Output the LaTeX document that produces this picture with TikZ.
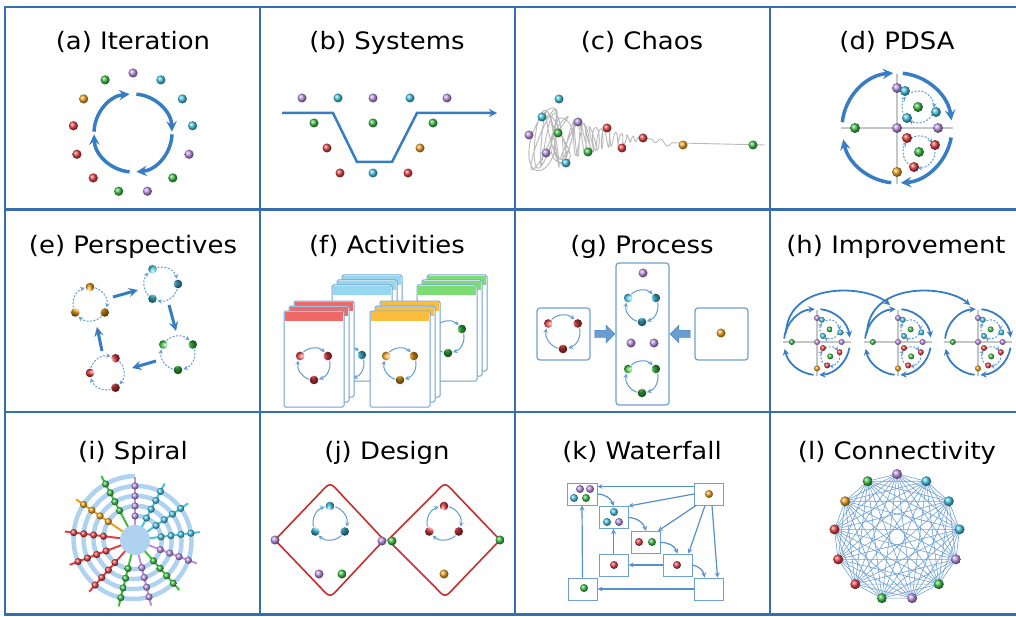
\documentclass[tikz,border=0pt]{standalone}
\usepackage{fontspec}
\setmainfont[FakeStretch=1.08]{DejaVu Sans}
\usetikzlibrary{arrows, positioning, calc, shapes.arrows}
\definecolor{framecol}{RGB}{55,110,175}
\definecolor{flowblue}{RGB}{55,125,195}
\definecolor{ringblue}{RGB}{95,155,215}
\definecolor{boxline}{RGB}{110,160,210}
\definecolor{spiralblue}{RGB}{175,210,240}
\definecolor{meshblue}{RGB}{110,160,210}
\definecolor{designred}{RGB}{200,45,45}
\definecolor{bred}{RGB}{225,65,70}
\definecolor{bgreen}{RGB}{60,190,70}
\definecolor{bcyan}{RGB}{70,195,225}
\definecolor{bpurple}{RGB}{185,145,225}
\definecolor{borange}{RGB}{235,160,30}
\definecolor{hred}{RGB}{240,105,105}
\definecolor{hcyan}{RGB}{150,215,240}
\definecolor{hgreen}{RGB}{125,220,115}
\definecolor{horange}{RGB}{250,190,60}
\tikzstyle{panelframe} = [draw=framecol, line width=2.5pt]
\tikzstyle{paneltitle} = [font=\fontsize{24}{28}\selectfont, anchor=base, inner sep=0pt]
\tikzstyle{bigarrow} = [draw=flowblue, line width=3.5pt, ->, >=stealth]
\tikzstyle{fatarrow} = [draw=flowblue, line width=3pt, ->, >=stealth]
\tikzstyle{ringarrow} = [draw=ringblue, line width=1pt, ->, >=stealth]
\tikzstyle{dasharrow} = [ringarrow, dash pattern=on 2pt off 1.5pt]
\tikzstyle{gbox} = [draw=boxline, line width=1.2pt, rounded corners=3pt, fill=white, inner sep=0pt]
\tikzstyle{kbox} = [draw=boxline, line width=1pt, fill=white, minimum width=29pt, minimum height=22pt, inner sep=0pt]
\tikzstyle{karrow} = [draw=flowblue!85, line width=1.2pt, ->, >=stealth]
\tikzstyle{blockarrow} = [single arrow, fill=flowblue!75, draw=flowblue, inner sep=3.5pt, single arrow head extend=5pt, minimum height=20pt]
\def\ballcols{bpurple,bcyan,bcyan,bcyan,bpurple,bgreen,bpurple,bgreen,bred,bred,bred,borange,bgreen}
\newcommand{\ball}[3][4.5pt]{\shade[ball color=#2] (#3) circle (#1);}
% three balls on a ring with small arrows between them
\newcommand{\triring}[5][ringarrow]{%
  \foreach \k in {0,1,2}{%
    \pgfmathsetmacro{\sa}{#4+120*\k}%
    \pgfmathsetmacro{\sb}{\sa+18}%
    \pgfmathsetmacro{\sc}{\sa+102}%
    \draw[#1] (#2) ++(\sb:#5) arc[start angle=\sb, end angle=\sc, radius=#5];
    \shade[ball color=#3] (#2) ++(\sa:#5) circle (4.3pt);
  }}
% stack of three cards, front card top left at (#1,#2)
\newcommand{\cardstack}[3]{%
  \foreach \d in {10,5,0}{%
    \filldraw[fill=white, draw=boxline, line width=1pt, rounded corners=1.5pt] (#1+\d, #2-\d) rectangle ++(60,96);
    \fill[#3] (#1+\d+0.6, #2-\d+0.6) rectangle ++(58.8,9.5);
  }}
% plan-do-study-act cycle around (0,0)
\newcommand{\pdsacycle}[1]{%
  \draw[gray!45, line width=1.2pt] (-56,0) -- (56,0) (0,-54) -- (0,56);
  \foreach \sa/\sb in {186/266, 276/352, 10/86, 96/168}{%
    \draw[draw=flowblue, line width=#1, ->, >=stealth] (0,0) ++(\sa:55) arc[start angle=\sa, end angle=\sb, radius=55];}
  \foreach \sa/\sb in {245/363, 27/123, 147/220}{%
    \draw[dasharrow] (21,-21) ++(\sa:16) arc[start angle=\sa, end angle=\sb, radius=16];}
  \foreach \sa/\sb in {240/325, 347/455, 120/218}{%
    \draw[dasharrow] (22,24) ++(\sa:16) arc[start angle=\sa, end angle=\sb, radius=16];}
  \ball[5pt]{bpurple}{0,-40} \ball[5pt]{bpurple}{0,0} \ball[5pt]{bpurple}{41,0}
  \ball[5pt]{bgreen}{-42,0} \ball[5pt]{borange}{0,44}
  \ball[5pt]{bcyan}{8,-37} \ball[5pt]{bgreen}{21,-21} \ball[5pt]{bcyan}{39,-16} \ball[5pt]{bcyan}{10,-10}
  \ball[5pt]{bred}{10,10} \ball[5pt]{bred}{38,17} \ball[5pt]{bgreen}{22,24} \ball[5pt]{bred}{17,39}
}

\begin{document}
\begin{tikzpicture}[x=1pt, y=-1pt]
\useasboundingbox (0,0) rectangle (1016,617);
\fill[white] (0,0) rectangle (1016,617);

% Panel frames
\foreach \c in {0,...,3}{
  \foreach \r in {0,1,2}{
    \draw[panelframe] (5+255*\c, 7+202.5*\r) rectangle ++(255,202.5);
  }
}

% Titles
\node[paneltitle] (ta) at (133,50) {(a) Iteration};
\node[paneltitle] (tb) at (387,50) {(b) Systems};
\node[paneltitle] (tc) at (642,50) {(c) Chaos};
\node[paneltitle] (td) at (897,50) {(d) PDSA};
\node[paneltitle] (te) at (133,254) {(e) Perspectives};
\node[paneltitle] (tf) at (387,254) {(f) Activities};
\node[paneltitle] (tg) at (642,254) {(g) Process};
\node[paneltitle] (th) at (896,254) {(h) Improvement};
\node[paneltitle] (ti) at (133,459) {(i) Spiral};
\node[paneltitle] (tj) at (387,459) {(j) Design};
\node[paneltitle] (tk) at (642,459) {(k) Waterfall};
\node[paneltitle] (tl) at (897,459) {(l) Connectivity};

% (a) Iteration
\foreach \sa/\sb in {182/265, 275/358, 2/85, 95/178}{
  \draw[bigarrow] (133,133) ++(\sa:39) arc[start angle=\sa, end angle=\sb, radius=39];
}
\foreach \col [count=\k from 0] in \ballcols{
  \pgfmathsetmacro{\ang}{270+27.69*\k}
  \shade[ball color=\col] ([shift={(\ang:60)}]133,133) circle (4.6pt);
}

% (b) Systems
\draw[draw=flowblue, line width=2.5pt, ->, >=stealth] (282,113) -- (333,113) -- (357,162) -- (392,162) -- (417,113) -- (497,113);
\ball{bpurple}{302,98} \ball{bcyan}{338,98} \ball{bpurple}{373,98} \ball{bcyan}{410,98} \ball{bpurple}{447,98}
\ball{bgreen}{314,123} \ball{bgreen}{373,123} \ball{bgreen}{433,123}
\ball{bred}{327,148} \ball{borange}{420,148}
\ball{bred}{340,173} \ball{bcyan}{373,173} \ball{bred}{408,173}

% (c) Chaos
\draw[gray!55, line width=0.9pt] plot[domain=0.001:0.999, samples=1100, smooth]
  ({542+110*\x^1.3+14*(1-\x)^2*cos(9000*\x+200*sin(1300*\x))},
   {139+32*(1-\x)^1.2*sin(9630*\x+150*sin(700*\x))});
\draw[gray!55, line width=0.9pt] plot[domain=652:672, samples=40, smooth] (\x, {139+6*(\x-652)/20+2.5*sin(30*(\x-652))}) -- (765,145);
\ball{bcyan}{559,99} \ball{bcyan}{542,117} \ball{bpurple}{578,122} \ball{bpurple}{529,135}
\ball{bgreen}{558,133} \ball{bpurple}{546,153} \ball{bcyan}{566,163} \ball{bgreen}{588,152}
\ball{bred}{607,128} \ball{bred}{622,148} \ball{bred}{643,138} \ball{borange}{683,145} \ball{bgreen}{753,145}

% (d) PDSA
\begin{scope}[shift={(897,128)}]
  \pdsacycle{3.5pt}
\end{scope}

% (e) Perspectives
\triring[dasharrow]{90,304}{borange}{270}{17}
\triring[dasharrow]{161,284}{bcyan}{0}{17}
\triring[dasharrow]{178,353}{bgreen}{90}{17}
\triring[dasharrow]{107,373}{bred}{60}{17}
\draw[fatarrow] (113,297) -- (138,290);
\draw[fatarrow] (169,305) -- (176,331);
\draw[fatarrow] (156,361) -- (132,368);
\draw[fatarrow] (102,351) -- (97,327);

% (f) Activities
\cardstack{332}{285}{hcyan}
\triring{348,363}{bcyan}{90}{16}
\cardstack{417}{285}{hgreen}
\triring{448,337}{bgreen}{90}{16}
\cardstack{284}{311}{hred}
\triring{314,364}{bred}{90}{16}
\cardstack{370}{311}{horange}
\triring{400,364}{borange}{90}{16}

% (g) Process
\node[gbox, minimum width=53pt, minimum height=52pt] (gleft) at (563.5,334) {};
\node[gbox, minimum width=53pt, minimum height=142pt] (gmid) at (642.5,334) {};
\node[gbox, minimum width=53pt, minimum height=52pt] (gright) at (721.5,334) {};
\node[blockarrow] (gin) at ($(gleft.east)!0.5!(gmid.west)$) {};
\node[blockarrow, shape border rotate=180] (gfeed) at ($(gmid.east)!0.5!(gright.west)$) {};
\triring{563,332}{bred}{90}{17}
\triring{642,306}{bcyan}{90}{16}
\triring{642,377}{bgreen}{90}{16}
\ball{bpurple}{643,273} \ball{bpurple}{631,343} \ball{bpurple}{654,343}
\ball{borange}{721,333}

% (h) Improvement
\foreach \cx in {817,898,978}{
  \begin{scope}[shift={(\cx,342)}, scale=0.6]
    \pdsacycle{1.8pt}
  \end{scope}
}
\draw[draw=flowblue, line width=1.8pt, ->, >=stealth] (786,333) .. controls (788,282) and (865,284) .. (890,305);
\draw[draw=flowblue, line width=1.8pt, ->, >=stealth] (867,333) .. controls (869,282) and (945,284) .. (970,305);

% (i) Spiral
\coordinate (spiralhub) at (135,540);
\fill[spiralblue] (spiralhub) circle (15pt);
\draw[spiralblue, line width=4.5pt] plot[domain=0:1440, samples=360, smooth]
  ({135+(24+\x/36)*cos(\x-90)}, {540+(24+\x/36)*sin(\x-90)});
\foreach \col [count=\k from 0] in \ballcols{
  \pgfmathsetmacro{\ang}{270+27.69*\k}
  \pgfmathsetmacro{\rr}{24+(27.69*\k+1080)/36+9}
  \draw[\col, line width=2pt] ([shift={(\ang:15)}]spiralhub) -- ([shift={(\ang:\rr)}]spiralhub);
  \foreach \j in {0,...,3}{
    \pgfmathsetmacro{\rb}{24+(27.69*\k+360*\j)/36}
    \shade[ball color=\col] ([shift={(\ang:\rb)}]spiralhub) circle (3.6pt);
  }
}

% (j) Design
\draw[designred, line width=1.6pt] (275,540) -- (320,493) .. controls (330,482) .. (340,493) -- (384,540) -- (340,587) .. controls (330,598) .. (320,587) -- cycle;
\draw[designred, line width=1.6pt] (388,540) -- (435,493) .. controls (445,482) .. (455,493) -- (500,540) -- (455,587) .. controls (445,598) .. (435,587) -- cycle;
\triring{330,523}{bcyan}{270}{17}
\triring{444,523}{bred}{270}{17}
\ball{bpurple}{275,540} \ball{bpurple}{382,541} \ball{bgreen}{392,541} \ball{bgreen}{500,540}
\ball{bpurple}{319,574} \ball{bgreen}{342,574} \ball{borange}{444,574}

% (k) Waterfall
\node[kbox, minimum width=30pt] (k1) at (582,494) {};
\node[kbox] (k2) at (613.5,517.5) {};
\node[kbox] (k3) at (646,542.5) {};
\node[kbox] (k4) at (613.5,565) {};
\node[kbox] (k5) at (677.5,565) {};
\node[kbox] (k6) at (709,494) {};
\node[kbox] (k7) at (582.5,589) {};
\node[kbox] (k8) at (708.5,589) {};
\draw[karrow] ([yshift=-4pt]k6.north west) -- ([yshift=-4pt]k1.north east);
\draw[karrow] (k6.west) -- (k2.north east);
\draw[karrow] ([xshift=2pt]k6.south west) -- ([xshift=-3pt]k3.north east);
\draw[karrow] ([xshift=-4pt]k6.south) -- ([xshift=-4pt]k5.north east);
\draw[karrow] ([xshift=3pt]k6.south) -- ([xshift=9pt]k8.north);
\draw[karrow] (k1.east) to[bend left=35] (k2.north);
\draw[karrow] (k2.east) to[bend left=35] (k3.north);
\draw[karrow] (k3.east) to[bend left=35] (k5.north);
\draw[karrow] (k5.east) to[bend left=35] ([xshift=-4pt]k8.north);
\draw[karrow] (k5.west) -- (k4.east);
\draw[karrow] (k4.north) -- (k2.south);
\draw[karrow] (k8.west) -- (k7.east);
\draw[karrow] (k7.north) -- (k1.south);
\ball[4pt]{bpurple}{580,489} \ball[4pt]{bpurple}{590,489} \ball[4pt]{bcyan}{574,498} \ball[4pt]{bgreen}{586,498}
\ball[4pt]{bcyan}{614,512} \ball[4pt]{bcyan}{607,522} \ball[4pt]{bpurple}{619,522}
\ball[4pt]{bred}{639,542} \ball[4pt]{bgreen}{652,542}
\ball[4pt]{bred}{614,565} \ball[4pt]{bred}{677,565}
\ball[4pt]{borange}{709,494} \ball[4pt]{bgreen}{584,588}

% (l) Connectivity
\foreach \col [count=\k from 0] in \ballcols{
  \pgfmathsetmacro{\ang}{270+27.69*\k}
  \coordinate (lpt\k) at ([shift={(\ang:63)}]897,537);
}
\foreach \i in {0,...,12}{
  \foreach \j in {\i,...,12}{
    \draw[meshblue, line width=0.6pt] (lpt\i) -- (lpt\j);
  }
}
\foreach \col [count=\k from 0] in \ballcols{
  \shade[ball color=\col] (lpt\k) circle (5pt);
}

\end{tikzpicture}
\end{document}
